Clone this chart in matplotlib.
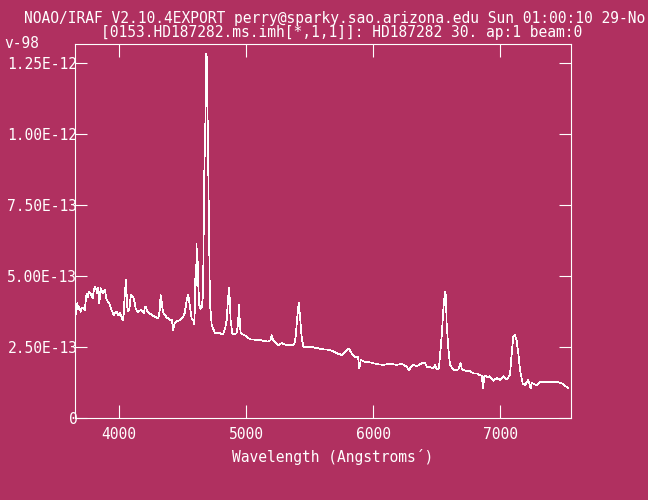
import matplotlib
matplotlib.use("Agg")
import matplotlib.pyplot as plt

# Kolory jak w IRAF (tło "maroon", wszystko inne białe)
bg_color = "#b03060"
fg_color = "white"

# Dane widma, strumień w jednostkach 1e-12
wavelength = [
    3654, 3659, 3669, 3677, 3685, 3696, 3705, 3717, 3728, 3743, 3752, 3762, 3775, 3791,
    3800, 3809, 3818, 3827, 3836, 3843, 3854, 3864, 3874, 3887, 3901, 3912, 3921, 3930,
    3940, 3950, 3958, 3970, 3980, 3993, 4006, 4017, 4027, 4035, 4039, 4046, 4053, 4058,
    4063, 4070, 4079, 4085, 4092, 4100, 4110, 4120, 4129, 4140, 4150, 4162, 4176, 4185,
    4194, 4202, 4210, 4220, 4234, 4245, 4255, 4268, 4281, 4295, 4307, 4318, 4326, 4334,
    4342, 4350, 4360, 4373, 4386, 4400, 4413, 4420, 4425, 4433, 4446, 4460, 4478, 4490,
    4504, 4515, 4524, 4531, 4537, 4543, 4550, 4557, 4564, 4570, 4578, 4583, 4590, 4596,
    4600, 4605, 4609, 4613, 4618, 4623, 4630, 4640, 4650, 4660, 4669, 4680, 4685, 4692,
    4696, 4706, 4714, 4728, 4740, 4754, 4770, 4793, 4810, 4819, 4835, 4846, 4855, 4864,
    4870, 4877, 4890, 4905, 4924, 4935, 4943, 4950, 4956, 4976, 4995, 5016, 5029, 5060,
    5085, 5108, 5140, 5173, 5190, 5200, 5210, 5226, 5252, 5279, 5300, 5318, 5345, 5370,
    5380, 5389, 5402, 5413, 5423, 5436, 5449, 5490, 5528, 5570, 5606, 5635, 5659, 5690,
    5712, 5735, 5751, 5770, 5790, 5803, 5815, 5830, 5856, 5880, 5890, 5901, 5935, 5974,
    6027, 6079, 6132, 6184, 6224, 6263, 6281, 6295, 6315, 6342, 6381, 6407, 6425, 6450,
    6472, 6486, 6499, 6517, 6526, 6539, 6551, 6564, 6572, 6577, 6590, 6604, 6625, 6643,
    6669, 6688, 6698, 6722, 6761, 6787, 6814, 6840, 6853, 6866, 6872, 6879, 6900, 6918,
    6945, 6972, 6998, 7024, 7050, 7076, 7090, 7102, 7115, 7128, 7142, 7155, 7176, 7194,
    7220, 7239, 7249, 7265, 7286, 7312, 7365, 7444, 7484, 7510, 7536,
]
flux = [
    0.360, 0.370, 0.405, 0.385, 0.393, 0.375, 0.390, 0.387, 0.380, 0.440, 0.425, 0.445, 0.440, 0.423,
    0.450, 0.463, 0.455, 0.440, 0.460, 0.405, 0.458, 0.445, 0.440, 0.452, 0.417, 0.410, 0.405, 0.395,
    0.381, 0.370, 0.364, 0.372, 0.375, 0.362, 0.370, 0.358, 0.346, 0.365, 0.405, 0.450, 0.487, 0.440,
    0.393, 0.378, 0.381, 0.410, 0.434, 0.432, 0.428, 0.410, 0.387, 0.378, 0.375, 0.380, 0.381, 0.375,
    0.370, 0.393, 0.393, 0.378, 0.370, 0.368, 0.364, 0.360, 0.358, 0.355, 0.352, 0.380, 0.434, 0.410,
    0.381, 0.370, 0.364, 0.355, 0.352, 0.346, 0.346, 0.330, 0.311, 0.330, 0.341, 0.343, 0.346, 0.350,
    0.358, 0.370, 0.395, 0.417, 0.425, 0.434, 0.415, 0.393, 0.370, 0.352, 0.348, 0.346, 0.330, 0.393,
    0.520, 0.470, 0.614, 0.480, 0.550, 0.460, 0.400, 0.385, 0.390, 0.440, 0.850, 1.085, 1.283, 1.260,
    1.050, 0.690, 0.406, 0.329, 0.315, 0.300, 0.300, 0.300, 0.295, 0.298, 0.320, 0.346, 0.410, 0.461,
    0.420, 0.346, 0.300, 0.295, 0.300, 0.330, 0.401, 0.330, 0.300, 0.295, 0.290, 0.283, 0.278, 0.278,
    0.274, 0.276, 0.272, 0.270, 0.275, 0.293, 0.276, 0.270, 0.258, 0.265, 0.260, 0.258, 0.258, 0.258,
    0.265, 0.287, 0.358, 0.407, 0.360, 0.287, 0.252, 0.252, 0.250, 0.246, 0.243, 0.242, 0.240, 0.235,
    0.229, 0.226, 0.223, 0.230, 0.240, 0.246, 0.240, 0.229, 0.217, 0.215, 0.176, 0.205, 0.199, 0.197,
    0.191, 0.188, 0.192, 0.188, 0.192, 0.182, 0.168, 0.180, 0.188, 0.183, 0.194, 0.194, 0.180, 0.180,
    0.176, 0.188, 0.172, 0.176, 0.223, 0.293, 0.381, 0.446, 0.430, 0.340, 0.252, 0.188, 0.175, 0.168,
    0.172, 0.194, 0.172, 0.168, 0.166, 0.158, 0.158, 0.152, 0.150, 0.106, 0.145, 0.150, 0.145, 0.148,
    0.132, 0.142, 0.135, 0.148, 0.137, 0.152, 0.229, 0.287, 0.293, 0.275, 0.229, 0.170, 0.123, 0.117,
    0.135, 0.106, 0.125, 0.120, 0.117, 0.129, 0.129, 0.129, 0.123, 0.114, 0.106,
]
flux = [f * 1e-12 for f in flux]

# Podziałki osi
x_ticks = [4000, 5000, 6000, 7000]
y_ticks = [0, 2.5e-13, 5.0e-13, 7.5e-13, 1.0e-12, 1.25e-12]
y_tick_labels = ["0", "2.50E-13", "5.00E-13", "7.50E-13", "1.00E-12", "1.25E-12"]

title_line1 = "NOAO/IRAF V2.10.4EXPORT perry@sparky.sao.arizona.edu Sun 01:00:10 29-No"
title_wrap = "v-98"
title_line2 = "[0153.HD187282.ms.imh[*,1,1]]: HD187282 30. ap:1 beam:0"
x_label = "Wavelength (Angstroms\u00b4)"

plt.rcParams["font.family"] = ["DejaVu Sans Mono"]
font_size = 10.5

fig = plt.figure(figsize=(6.48, 5.00), dpi=100, facecolor=bg_color)
ax = fig.add_axes([75.3 / 648, 1 - 418.3 / 500, 496 / 648, 374 / 500])
ax.set_facecolor(bg_color)

# Linia bez wygładzania, żeby przypominała rysunek z IRAF (1 piksel)
ax.plot(wavelength, flux, color=fg_color, linewidth=0.5, antialiased=False)

ax.set_xlim(3654, 7559)
ax.set_ylim(0, 1.317e-12)

ax.set_xticks(x_ticks)
ax.set_xticklabels([str(t) for t in x_ticks])
ax.set_yticks(y_ticks)
ax.set_yticklabels(y_tick_labels)

ax.tick_params(axis="x", direction="in", length=9.5, width=0.8, colors=fg_color,
               top=True, bottom=True, labelsize=font_size, pad=6)
ax.tick_params(axis="y", direction="in", length=8.5, width=0.8, colors=fg_color,
               left=True, right=True, labelsize=font_size, pad=-1.5)

for spine in ax.spines.values():
    spine.set_color(fg_color)
    spine.set_linewidth(0.8)

# Teksty nagłówka i opis osi X
fig.text(24 / 648, 1 - 18 / 500, title_line1, color=fg_color, fontsize=font_size,
         ha="left", va="center")
fig.text(101 / 648, 1 - 32.5 / 500, title_line2, color=fg_color, fontsize=font_size,
         ha="left", va="center")
fig.text(4 / 648, 1 - 43 / 500, title_wrap, color=fg_color, fontsize=font_size,
         ha="left", va="center")
fig.text(332.7 / 648, 1 - 457 / 500, x_label, color=fg_color, fontsize=font_size,
         ha="center", va="center")

fig.savefig("out.png", dpi=100, facecolor=bg_color)
